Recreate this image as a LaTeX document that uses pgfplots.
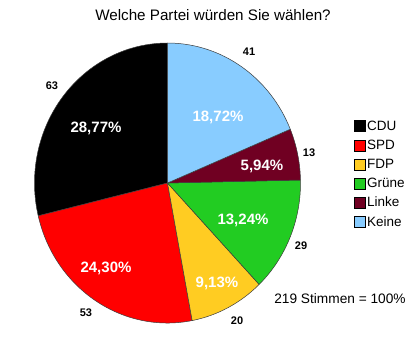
\documentclass[border=0pt]{standalone}
\usepackage{pgfplots}
\pgfplotsset{compat=1.18}
\usepackage{fontspec}
\setmainfont{Liberation Sans}
\definecolor{cdu}{RGB}{0,0,0}
\definecolor{spd}{RGB}{255,0,0}
\definecolor{fdp}{RGB}{255,204,34}
\definecolor{gruene}{RGB}{34,204,34}
\definecolor{linke}{RGB}{112,0,34}
\definecolor{keine}{RGB}{136,204,255}
\definecolor{edge}{RGB}{60,60,60}
% counts: CDU 63, SPD 53, FDP 20, Gruene 29, Linke 13, Keine 41 (total 219)
\newcommand{\slice}[3]{% color, start angle, end angle
  \fill[#1,draw=edge,line width=0.5pt,line join=round] (axis cs:167.5,166) -- (axis cs:{167.5+133*cos(#2)},{166+140*sin(#2)})
     arc[start angle=#2,end angle=#3,x radius=133pt,y radius=140pt] -- cycle;}
\begin{document}
\begin{tikzpicture}
\begin{axis}[
  width=420pt, height=349pt, scale only axis,
  xmin=0, xmax=420, ymin=0, ymax=349,
  hide axis, clip=false,
  legend style={at={(axis cs:353.5,230.5)}, anchor=north west, draw=none, fill=none,
    font=\fontsize{13.5}{15}\selectfont, row sep=4.2pt, inner sep=0pt,
    /tikz/every even column/.append style={column sep=1.5pt}},
  legend cell align=left,
  legend image code/.code={\draw[#1,draw=black,line width=0.5pt] (0pt,-5.5pt) rectangle (11pt,5.5pt);},
]
\path (axis cs:0,0) rectangle (axis cs:420,349);
\addlegendimage{fill=cdu}\addlegendentry{CDU}
\addlegendimage{fill=spd}\addlegendentry{SPD}
\addlegendimage{fill=fdp}\addlegendentry{FDP}
\addlegendimage{fill=gruene}\addlegendentry{Grüne}
\addlegendimage{fill=linke}\addlegendentry{Linke}
\addlegendimage{fill=keine}\addlegendentry{Keine}
\pgfmathsetmacro{\aA}{90}
\pgfmathsetmacro{\aB}{\aA+360/219*63}
\pgfmathsetmacro{\aC}{\aB+360/219*53}
\pgfmathsetmacro{\aD}{\aC+360/219*20}
\pgfmathsetmacro{\aE}{\aD+360/219*29}
\pgfmathsetmacro{\aF}{\aE+360/219*13}
\pgfmathsetmacro{\aG}{450}
\slice{cdu}{\aA}{\aB}
\slice{spd}{\aB}{\aC}
\slice{fdp}{\aC}{\aD}
\slice{gruene}{\aD}{\aE}
\slice{linke}{\aE}{\aF}
\slice{keine}{\aF}{\aG}
\node[font=\fontsize{15.2}{17}\selectfont] at (axis cs:213,334) {Welche Partei würden Sie wählen?};
\begin{scope}[every node/.style={font=\bfseries\fontsize{15}{16}\selectfont, text=white}]
\node at (axis cs:96,221) {28,77\%};
\node at (axis cs:106,81) {24,30\%};
\node at (axis cs:217,66) {9,13\%};
\node at (axis cs:243,129) {13,24\%};
\node at (axis cs:262,183) {5,94\%};
\node at (axis cs:218,232) {18,72\%};
\end{scope}
\begin{scope}[every node/.style={font=\bfseries\fontsize{11}{12}\selectfont}]
\node at (axis cs:52,263) {63};
\node at (axis cs:86,36) {53};
\node at (axis cs:237,28) {20};
\node at (axis cs:301,103) {29};
\node at (axis cs:309,196) {13};
\node at (axis cs:249,297) {41};
\end{scope}
\node[font=\fontsize{13.7}{15}\selectfont] at (axis cs:340,50) {219 Stimmen = 100\%};
\end{axis}
\end{tikzpicture}
\end{document}
